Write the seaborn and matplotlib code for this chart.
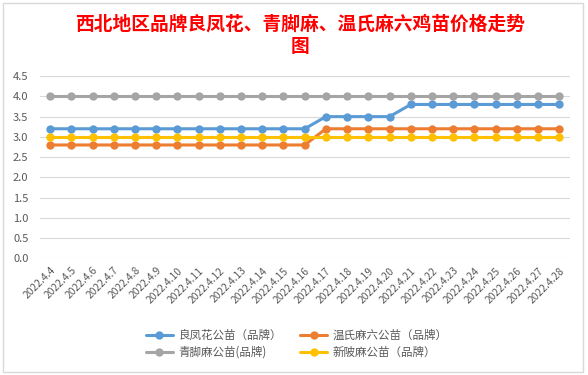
import pandas as pd
import matplotlib.pyplot as plt
import seaborn as sns
from matplotlib.patches import Rectangle

# Data
dates = ['2022.4.4', '2022.4.5', '2022.4.6', '2022.4.7', '2022.4.8', '2022.4.9',
         '2022.4.10', '2022.4.11', '2022.4.12', '2022.4.13', '2022.4.14', '2022.4.15',
         '2022.4.16', '2022.4.17', '2022.4.18', '2022.4.19', '2022.4.20', '2022.4.21',
         '2022.4.22', '2022.4.23', '2022.4.24', '2022.4.25', '2022.4.26', '2022.4.27',
         '2022.4.28']
liangfenghua = [3.2] * 13 + [3.5] * 4 + [3.8] * 8
wenshi = [2.8] * 13 + [3.2] * 12
qingjiao = [4.0] * 25
xinpi = [3.0] * 25

series_names = ['良凤花公苗（品牌）', '温氏麻六公苗（品牌）', '青脚麻公苗(品牌)', '新陂麻公苗（品牌）']
colors = ['#5B9BD5', '#ED7D31', '#A5A5A5', '#FFC000']
yticks = [0.0, 0.5, 1.0, 1.5, 2.0, 2.5, 3.0, 3.5, 4.0, 4.5]

frames = []
for name, vals in zip(series_names, [liangfenghua, wenshi, qingjiao, xinpi]):
    frames.append(pd.DataFrame({'pos': range(len(dates)), 'price': vals, 'series': name}))
df = pd.concat(frames, ignore_index=True)

sns.set_style('white')
plt.rcParams['font.family'] = ['Noto Sans CJK SC', 'DejaVu Sans']

fig = plt.figure(figsize=(5.88, 3.75), dpi=100)
ax = fig.add_axes([0.0672, 0.311, 0.902, 0.486])

sns.lineplot(data=df, x='pos', y='price', hue='series', hue_order=series_names,
             palette=colors, marker='o', markersize=6, markeredgewidth=0,
             linewidth=2.2, ax=ax, legend=True)

ax.set_xlim(-0.5, len(dates) - 0.5)
ax.set_ylim(0, 4.5)
ax.set_yticks(yticks)
ax.set_yticklabels([f'{v:.1f}' for v in yticks], fontsize=8, color='#595959')
ax.set_xticks(range(len(dates)))
ax.set_xticklabels(dates, rotation=45, ha='right', rotation_mode='anchor',
                   fontsize=7.4, color='#595959')
ax.tick_params(axis='x', length=0, pad=5)
ax.tick_params(axis='y', length=0, pad=8)
ax.grid(axis='y', color='#D9D9D9', linewidth=0.8)
ax.set_axisbelow(True)
for s in ax.spines.values():
    s.set_visible(False)
ax.set_xlabel('')
ax.set_ylabel('')

# legend: two columns, order as in the reference
handles, labels = ax.get_legend_handles_labels()
order = [0, 2, 1, 3]
ax.legend([handles[i] for i in order], [labels[i] for i in order], ncol=2,
          loc='center', bbox_to_anchor=(0.505, 0.083), bbox_transform=fig.transFigure,
          frameon=False, fontsize=8.3, handlelength=2.3, handletextpad=0.5,
          columnspacing=1.6, labelspacing=0.3, labelcolor='#595959')

fig.text(0.51, 0.937, '西北地区品牌良凤花、青脚麻、温氏麻六鸡苗价格走势', ha='center', va='center',
         fontsize=13.5, fontweight='bold', color='#FF0000')
fig.text(0.51, 0.875, '图', ha='center', va='center',
         fontsize=13.5, fontweight='bold', color='#FF0000')

# chart frame
fig.patches.append(Rectangle((3 / 588, 3 / 375), 580 / 588, 369 / 375, transform=fig.transFigure,
                             fill=False, edgecolor='#D9D9D9', linewidth=1))

fig.savefig('out.png', dpi=100)
